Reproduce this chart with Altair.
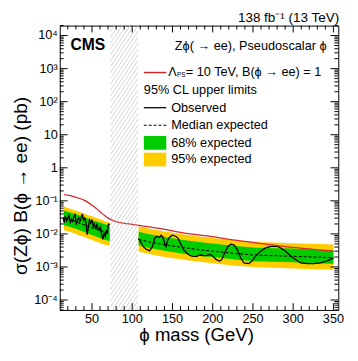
import altair as alt
import pandas as pd
import numpy as np

# ---------------- data ----------------
# signal prediction (red line)
sig_mass = [15, 20, 25, 30, 35, 40, 45, 50, 55, 60, 65, 70, 75, 80, 90, 100, 110, 125, 140,
            160, 180, 200, 225, 250, 275, 300, 325, 350]
sig_xs = [0.155, 0.148, 0.140, 0.128, 0.118, 0.105, 0.090, 0.074, 0.060, 0.047, 0.037, 0.030,
          0.026, 0.0235, 0.021, 0.0195, 0.0178, 0.0157, 0.0138, 0.0112, 0.0095, 0.0083,
          0.0066, 0.0055, 0.0046, 0.0039, 0.0034, 0.0030]

# expected bands, low-mass region
low_mass = [15, 20, 25, 30, 35, 40, 45, 50, 55, 60, 65, 72]
low_med = [0.031, 0.028, 0.026, 0.024, 0.021, 0.019, 0.017, 0.0155, 0.014, 0.0128, 0.0117, 0.0104]
low_g_hi = [0.051, 0.047, 0.043, 0.040, 0.036, 0.032, 0.029, 0.026, 0.024, 0.022, 0.020, 0.018]
low_y_hi = [0.067, 0.061, 0.056, 0.051, 0.046, 0.042, 0.037, 0.034, 0.031, 0.028, 0.025, 0.022]
low_g_lo = [0.0183, 0.017, 0.0155, 0.0142, 0.0128, 0.0115, 0.0102, 0.0092, 0.0083, 0.0075, 0.0068, 0.0060]
low_y_lo = [0.013, 0.012, 0.011, 0.010, 0.009, 0.0081, 0.0073, 0.0065, 0.0059, 0.0053, 0.0048, 0.0044]

# expected bands, high-mass region
high_mass = [108, 120, 140, 160, 180, 200, 225, 250, 275, 300, 325, 350]
high_med = [0.0068, 0.0058, 0.0047, 0.0040, 0.0034, 0.0030, 0.0026, 0.0023, 0.0022, 0.0021, 0.0020, 0.0019]
high_y_hi = [0.017, 0.0145, 0.0118, 0.010, 0.0085, 0.0075, 0.0065, 0.0058, 0.0055, 0.0052, 0.0050, 0.0048]
high_g_hi = [0.0116, 0.0099, 0.0080, 0.0068, 0.0058, 0.0051, 0.0044, 0.0039, 0.0037, 0.0036, 0.0034, 0.0032]
high_g_lo = [0.0045, 0.0038, 0.0031, 0.0026, 0.0022, 0.0020, 0.0017, 0.0015, 0.00145, 0.0014, 0.0013, 0.00125]
high_y_lo = [0.0029, 0.0025, 0.0020, 0.0017, 0.00146, 0.0013, 0.0011, 0.0010, 0.00095, 0.0009, 0.00086, 0.00082]

# observed limits
obs_low_mass = [14, 15.5, 17, 18.5, 20, 21.5, 23, 24.5, 26, 27.5, 29, 30.5, 32, 33.5, 35, 36.5,
                38, 39.5, 41, 42.5, 44, 45.5, 47, 48.5, 50, 51.5, 53, 54.5, 56, 57.5, 59, 60.5,
                62, 63.5, 65, 66.5, 68, 69, 70, 71, 72]
obs_low = [0.032, 0.022, 0.035, 0.025, 0.030, 0.036, 0.021, 0.028, 0.024, 0.033, 0.038, 0.019,
           0.027, 0.031, 0.024, 0.030, 0.040, 0.026, 0.030, 0.022, 0.0095, 0.016, 0.026, 0.021,
           0.027, 0.017, 0.020, 0.014, 0.019, 0.015, 0.013, 0.016, 0.0095, 0.0068, 0.011,
           0.0085, 0.013, 0.010, 0.018, 0.020, 0.019]
obs_high_mass = [107.6, 110.4, 113.7, 117.7, 121.7, 125, 127.8, 130.6, 133.9, 135.9, 137.9,
                 141.9, 144, 146, 150, 154, 157.3, 160, 164, 168, 172.2, 176.2, 180.3, 184.3,
                 188.3, 192.4, 196.4, 200.4, 204.5, 208.5, 211.3, 214.6, 218.6, 222.6, 226.7,
                 230.7, 234.8, 238.8, 244.8, 248.9, 252.9, 259, 265, 271.1, 277.1, 281.2, 285.2,
                 291.3, 297.3, 303.4, 309.4, 317.5, 325.6, 333.6, 341.7, 349.8]
obs_high = [0.0072, 0.0058, 0.0041, 0.0034, 0.0031, 0.0041, 0.0072, 0.0085, 0.0078, 0.0091,
            0.0081, 0.0041, 0.0064, 0.0078, 0.0091, 0.0085, 0.0072, 0.0051, 0.0033, 0.0026,
            0.0022, 0.0021, 0.0021, 0.0023, 0.0022, 0.0022, 0.0024, 0.0021, 0.00166, 0.0015,
            0.00166, 0.0026, 0.0041, 0.0049, 0.0046, 0.0033, 0.00186, 0.00132, 0.00127, 0.0015,
            0.0021, 0.0029, 0.0037, 0.0041, 0.0043, 0.0041, 0.0037, 0.0029, 0.0021, 0.00166,
            0.00132, 0.00127, 0.00127, 0.00132, 0.0015, 0.00186]

x_ticks = [50, 100, 150, 200, 250, 300, 350]
x_tick_labels = ['50', '100', '150', '200', '250', '300', '350']
y_ticks = [1e-4, 1e-3, 1e-2, 1e-1, 1, 10, 100, 1e3, 1e4]
y_tick_labels = ['10⁻⁴', '10⁻³', '10⁻²', '10⁻¹', '1', '10', '10²', '10³', '10⁴']
hatch_range = [73, 107]

# ---------------- layout ----------------
W, H = 285, 291
XMIN, XMAX = 10, 356
YMIN, YMAX = 5e-5, 2e4
FONT = 'Liberation Sans'
xs = alt.Scale(domain=[XMIN, XMAX], nice=False, zero=False)
ys = alt.Scale(type='log', domain=[YMIN, YMAX], nice=False)

band_df = pd.concat([
    pd.DataFrame({'m': low_mass, 'med': low_med, 'gh': low_g_hi, 'gl': low_g_lo,
                  'yh': low_y_hi, 'yl': low_y_lo, 'seg': 'low'}),
    pd.DataFrame({'m': high_mass, 'med': high_med, 'gh': high_g_hi, 'gl': high_g_lo,
                  'yh': high_y_hi, 'yl': high_y_lo, 'seg': 'high'}),
])
obs_df = pd.concat([
    pd.DataFrame({'m': obs_low_mass, 'v': obs_low, 'seg': 'low'}),
    pd.DataFrame({'m': obs_high_mass, 'v': obs_high, 'seg': 'high'}),
])
sig_df = pd.DataFrame({'m': sig_mass, 'v': sig_xs})


def X(f):
    return alt.X(f, scale=xs, axis=None)


def Y(f):
    return alt.Y(f, scale=ys, axis=None)


layers = []
layers.append(alt.Chart(band_df).mark_area(color='#ffcc00').encode(
    x=X('m:Q'), y=Y('yl:Q'), y2='yh:Q', detail='seg:N'))
layers.append(alt.Chart(band_df).mark_area(color='#00cc00').encode(
    x=X('m:Q'), y=Y('gl:Q'), y2='gh:Q', detail='seg:N'))
layers.append(alt.Chart(band_df).mark_line(color='black', strokeWidth=1.1, strokeDash=[3, 2]).encode(
    x=X('m:Q'), y=Y('med:Q'), detail='seg:N'))
layers.append(alt.Chart(obs_df).mark_line(color='black', strokeWidth=1.3).encode(
    x=X('m:Q'), y=Y('v:Q'), detail='seg:N'))
layers.append(alt.Chart(sig_df).mark_line(color='#d9262a', strokeWidth=1.3,
                                          interpolate='monotone').encode(
    x=X('m:Q'), y=Y('v:Q')))

# hatched excluded region (Z peak)
xpx = W / (XMAX - XMIN)
ypx = H / np.log10(YMAX / YMIN)
Wh = (hatch_range[1] - hatch_range[0]) * xpx
s, step = 1.5, 4.0
rows = []
c = -H / s
while c < Wh:
    u0 = max(0.0, c)
    u1 = min(Wh, c + H / s)
    if u1 > u0:
        rows.append({'x': hatch_range[0] + u0 / xpx, 'x2': hatch_range[0] + u1 / xpx,
                     'y': YMIN * 10 ** (s * (u0 - c) / ypx),
                     'y2': YMIN * 10 ** (s * (u1 - c) / ypx)})
    c += step
hatch_df = pd.DataFrame(rows)
layers.append(alt.Chart(hatch_df).mark_rule(color='#c8c8c8', strokeWidth=0.8).encode(
    x=X('x:Q'), x2='x2:Q', y=Y('y:Q'), y2='y2:Q'))

# inward ticks on all four sides
x_minor = [v for v in range(20, 360, 10) if v not in x_ticks]
y_minor = [k * 10.0 ** e for e in range(-5, 5) for k in range(2, 10) if YMIN <= k * 10.0 ** e <= YMAX]
for vals, ln in [(x_ticks, 7), (x_minor, 4)]:
    d = pd.DataFrame({'t': vals})
    layers.append(alt.Chart(d).mark_rule(color='black', strokeWidth=1).encode(
        x=X('t:Q'), y=alt.value(H), y2=alt.value(H - ln)))
    layers.append(alt.Chart(d).mark_rule(color='black', strokeWidth=1).encode(
        x=X('t:Q'), y=alt.value(0), y2=alt.value(ln)))
for vals, ln in [(y_ticks, 8), (y_minor, 4)]:
    d = pd.DataFrame({'t': vals})
    layers.append(alt.Chart(d).mark_rule(color='black', strokeWidth=1).encode(
        y=Y('t:Q'), x=alt.value(0), x2=alt.value(ln)))
    layers.append(alt.Chart(d).mark_rule(color='black', strokeWidth=1).encode(
        y=Y('t:Q'), x=alt.value(W), x2=alt.value(W - ln)))

# tick labels and axis titles
xl_df = pd.DataFrame({'t': x_ticks, 'lab': x_tick_labels})
layers.append(alt.Chart(xl_df).mark_text(font=FONT, fontSize=13, baseline='middle',
                                         align='center', color='black').encode(
    x=X('t:Q'), y=alt.value(H + 9), text='lab:N'))
yl_df = pd.DataFrame({'t': y_ticks, 'lab': y_tick_labels})
layers.append(alt.Chart(yl_df).mark_text(font=FONT, fontSize=13, baseline='middle',
                                         align='right', color='black').encode(
    y=Y('t:Q'), x=alt.value(-2), text='lab:N'))

one = pd.DataFrame({'a': [0]})
layers.append(alt.Chart(one).mark_text(font=FONT, fontSize=19, baseline='middle', align='center',
                                       color='black').encode(
    x=alt.value(140), y=alt.value(317), text=alt.value('ϕ mass (GeV)')))
layers.append(alt.Chart(one).mark_text(font=FONT, fontSize=19.5, baseline='middle', align='center',
                                       color='black', angle=270).encode(
    x=alt.value(-40), y=alt.value(164), text=alt.value('σ(Zϕ) B(ϕ → ee) (pb)')))

# legend and annotations
LX0, LX1, TX = 86, 109, 114
layers.append(alt.Chart(one).mark_rule(color='#d9262a', strokeWidth=1.5).encode(
    x=alt.value(LX0), x2=alt.value(LX1), y=alt.value(48)))
layers.append(alt.Chart(one).mark_rule(color='black', strokeWidth=1.3).encode(
    x=alt.value(LX0), x2=alt.value(LX1), y=alt.value(84)))
layers.append(alt.Chart(one).mark_rule(color='black', strokeWidth=1.1, strokeDash=[3, 2]).encode(
    x=alt.value(LX0), x2=alt.value(LX1), y=alt.value(102)))
layers.append(alt.Chart(one).mark_rect(color='#00cc00').encode(
    x=alt.value(LX0), x2=alt.value(LX1), y=alt.value(113), y2=alt.value(127)))
layers.append(alt.Chart(one).mark_rect(color='#ffcc00').encode(
    x=alt.value(LX0), x2=alt.value(LX1), y=alt.value(130), y2=alt.value(144)))

texts = [
    ('138 fb⁻¹ (13 TeV)', 286, -3.5, 13.8, 'normal', 'right', 'alphabetic'),
    ('CMS', 11, 20, 16, 'bold', 'left', 'middle'),
    ('Zϕ( → ee), Pseudoscalar ϕ', 273, 21, 13, 'normal', 'right', 'middle'),
    ('Λ', 111, 48, 13, 'normal', 'left', 'middle'),
    ('PS', 120, 51, 6.5, 'normal', 'left', 'middle'),
    ('= 10 TeV, B(ϕ → ee) = 1', 129, 48, 13, 'normal', 'left', 'middle'),
    ('95% CL upper limits', 86, 66, 13, 'normal', 'left', 'middle'),
    ('Observed', TX, 84, 13, 'normal', 'left', 'middle'),
    ('Median expected', TX, 102, 13, 'normal', 'left', 'middle'),
    ('68% expected', TX, 120, 13, 'normal', 'left', 'middle'),
    ('95% expected', TX, 137, 13, 'normal', 'left', 'middle'),
]
for t, x, y, fs, fw, al, bl in texts:
    layers.append(alt.Chart(one).mark_text(font=FONT, fontSize=fs, fontWeight=fw, align=al,
                                           baseline=bl, color='black').encode(
        x=alt.value(x), y=alt.value(y), text=alt.value(t)))

chart = alt.layer(*layers).properties(
    width=W, height=H,
    background='white',
    autosize=alt.AutoSizeParams(type='none'),
    padding={'left': 53, 'top': 14, 'right': 12, 'bottom': 40},
).configure_view(stroke='black', strokeWidth=1)

chart.save("out.html", embed_options={"renderer": "svg", "actions": False})
